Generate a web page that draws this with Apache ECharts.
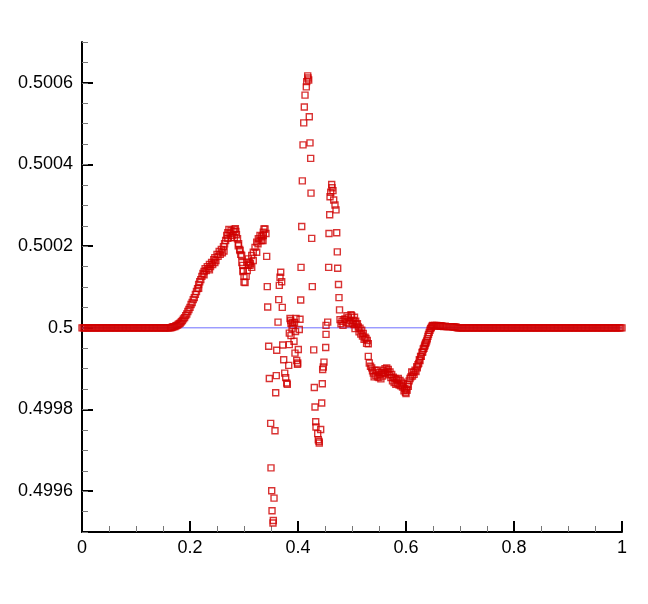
<!DOCTYPE html>
<html>
<head>
<meta charset="utf-8">
<script src="https://cdn.jsdelivr.net/npm/echarts@6/dist/echarts.min.js"></script>
<style>html,body{margin:0;padding:0;background:#fff;}#c{width:648px;height:604px;}</style>
</head>
<body>
<div id="c"></div>
<script>
// Tick values
const xTicks = [0, 0.2, 0.4, 0.6, 0.8, 1];
const yTicks = [0.4996, 0.4998, 0.5, 0.5002, 0.5004, 0.5006];

// Reference line (exact solution)
const exactLine = [[0, 0.5], [1, 0.5]];

// Numerical solution, segment by segment
const flatLeft = [
[0,0.5],[0.0025,0.5],[0.005,0.5],[0.0075,0.5],[0.01,0.5],[0.0125,0.5],[0.015,0.5],[0.0175,0.5],[0.02,0.5],[0.0225,0.5],
[0.025,0.5],[0.0275,0.5],[0.03,0.5],[0.0325,0.5],[0.035,0.5],[0.0375,0.5],[0.04,0.5],[0.0425,0.5],[0.045,0.5],[0.0475,0.5],
[0.05,0.5],[0.0525,0.5],[0.055,0.5],[0.0575,0.5],[0.06,0.5],[0.0625,0.5],[0.065,0.5],[0.0675,0.5],[0.07,0.5],[0.0725,0.5],
[0.075,0.5],[0.0775,0.5],[0.08,0.5],[0.0825,0.5],[0.085,0.5],[0.0875,0.5],[0.09,0.5],[0.0925,0.5],[0.095,0.5],[0.0975,0.5],
[0.1,0.5],[0.1025,0.5],[0.105,0.5],[0.1075,0.5],[0.11,0.5],[0.1125,0.5],[0.115,0.5],[0.1175,0.5],[0.12,0.5],[0.1225,0.5],
[0.125,0.5],[0.1275,0.5],[0.13,0.5],[0.1325,0.5],[0.135,0.5],[0.1375,0.5],[0.14,0.5],[0.1425,0.5],[0.145,0.5],[0.1475,0.5],
[0.15,0.5],[0.1525,0.5],[0.155,0.5],[0.1575,0.5],[0.16,0.5],[0.1625,0.5],[0.164,0.5000005]
];

const rise = [
[0.166,0.500001],[0.168,0.500002],[0.170,0.500003],[0.172,0.500003],[0.174,0.500005],[0.176,0.500006],[0.178,0.500008],
[0.180,0.500010],[0.182,0.500012],[0.184,0.500015],[0.186,0.500018],[0.188,0.500022],[0.190,0.500025],[0.192,0.500030],
[0.194,0.500034],[0.196,0.500040],[0.198,0.500045],[0.200,0.500050],[0.202,0.500057],[0.204,0.500062],[0.206,0.500069],
[0.208,0.500074],[0.210,0.500082],[0.212,0.500089],[0.214,0.500096],[0.216,0.500106],[0.216,0.500097],[0.218,0.500113],
[0.220,0.500118],[0.222,0.500126],[0.224,0.500133],[0.226,0.500138],[0.226,0.500130],[0.228,0.500145],[0.230,0.500140],
[0.232,0.500150],[0.234,0.500145],[0.236,0.500155],[0.236,0.500142],[0.238,0.500150],[0.240,0.500160],[0.242,0.500155],
[0.244,0.500167],[0.246,0.500172],[0.246,0.500160],[0.248,0.500165],[0.250,0.500180],[0.252,0.500175],[0.254,0.500187],
[0.256,0.500180],[0.258,0.500192],[0.260,0.500184],[0.262,0.500199],[0.263,0.500188],[0.264,0.500206],[0.266,0.500214],
[0.268,0.500226],[0.270,0.500233],[0.270,0.500219],[0.272,0.500241],[0.274,0.500231],[0.276,0.500238],[0.276,0.500221],
[0.278,0.500226],[0.280,0.500236],[0.282,0.500241],[0.282,0.500221],[0.284,0.500243],[0.285,0.500236],[0.286,0.500228],
[0.288,0.500218],[0.2894,0.500201],[0.290,0.500206],[0.2926,0.500189],[0.292,0.500192],[0.294,0.500180],[0.2957,0.500177],
[0.296,0.500160],[0.2976,0.500153],[0.298,0.500138],[0.2987,0.500140],[0.300,0.500126],[0.300,0.500112],[0.302,0.500111],
[0.304,0.500126],[0.306,0.500140],[0.308,0.500153],[0.310,0.500160],[0.312,0.500157]
];

const chaos = [
[0.3050,0.500161],[0.3080,0.500169],[0.3111,0.500153],[0.3143,0.500148],[0.3143,0.500177],[0.3172,0.500165],[0.3172,0.500185],
[0.3204,0.500197],[0.3235,0.500185],[0.3235,0.500210],[0.3259,0.500206],[0.3265,0.500218],[0.3296,0.500214],[0.3296,0.500226],
[0.3328,0.500223],[0.3328,0.500214],[0.3352,0.500214],[0.3357,0.500226],[0.3357,0.500234],[0.3370,0.500242],[0.3389,0.500242],
[0.3407,0.500231],[0.3420,0.500175],[0.3431,0.500101],[0.3439,0.500051],[0.3457,0.499955],[0.3469,0.499876],[0.3494,0.499766],
[0.3500,0.499657],[0.3513,0.499601],[0.3556,0.499583],[0.3519,0.499552],[0.3543,0.499528],[0.3537,0.499522],[0.3574,0.499748],
[0.3587,0.499841],[0.3598,0.499883],[0.3606,0.499945],[0.3630,0.500014],[0.3643,0.500069],[0.3654,0.500104],[0.3667,0.500124],
[0.3680,0.500136],[0.3698,0.500113],[0.3709,0.500050],[0.3717,0.499958],[0.3735,0.499922],[0.3754,0.499889],[0.3772,0.499878],
[0.3791,0.499865],[0.3802,0.499862],[0.3828,0.499908],[0.3839,0.499959],[0.3839,0.499987],[0.3852,0.500023],[0.3865,0.500018],
[0.3870,0.500011],[0.3870,0.499981],[0.3889,0.499999],[0.3898,0.500013],[0.3907,0.500006],[0.3926,0.499967],[0.3944,0.499938],
[0.3954,0.499991],[0.3935,0.500013],[0.3963,0.500023],[0.3976,0.499920],[0.3994,0.499914],[0.3991,0.499911],[0.4006,0.499947],
[0.4024,0.499996],[0.4037,0.500021],[0.4050,0.500068],[0.4056,0.500148],[0.4069,0.500248],[0.4080,0.500360],[0.4093,0.500448],
[0.4106,0.500502],[0.4117,0.500541],[0.4130,0.500570],[0.4154,0.500590],[0.4161,0.500603],[0.4180,0.500617],[0.4185,0.500612],
[0.4198,0.500607],[0.4209,0.500517],[0.4222,0.500453],[0.4235,0.500415],[0.4241,0.500330],[0.4254,0.500219],[0.4265,0.500101],
[0.4291,0.499946],[0.4302,0.499854],[0.4315,0.499806],[0.4328,0.499770],[0.4333,0.499757],[0.4365,0.499741],[0.4376,0.499726],
[0.4390,0.499722],[0.4394,0.499718],[0.4420,0.499751],[0.4439,0.499816],[0.4450,0.499863],[0.4457,0.499898],[0.4469,0.499904],
[0.4481,0.499916],[0.4513,0.499952],[0.4519,0.499984],[0.4519,0.500006],[0.4550,0.500014],[0.4568,0.500148],[0.4574,0.500231],
[0.4587,0.500277],[0.4593,0.500321],[0.4606,0.500332],[0.4624,0.500351],[0.4630,0.500343],[0.4648,0.500336],[0.4661,0.500313],
[0.4685,0.500301],[0.4704,0.500289],[0.4717,0.500233],[0.4728,0.500186],[0.4735,0.500146],[0.4750,0.500106],[0.4759,0.500074],
[0.4769,0.500044],[0.4778,0.500020]
];

const trough = [
[0.4796,0.500010],[0.4815,0.500016],[0.4833,0.500006],[0.4852,0.500020],[0.4870,0.500022],[0.4889,0.500013],[0.4907,0.500030],
[0.4931,0.500026],[0.4944,0.500010],[0.4963,0.500018],[0.4981,0.500032],[0.4994,0.500030],[0.5009,0.500012],[0.5024,0.500018],
[0.5037,0.500008],[0.5046,0.500026],[0.5056,0.499998],[0.5069,0.500016],[0.5083,0.500008],[0.5100,0.500010],[0.5117,0.500002],
[0.5130,0.499990],[0.5148,0.499999],[0.5163,0.499985],[0.5180,0.499994],[0.5194,0.499980],[0.5209,0.499986],[0.5224,0.499972],
[0.5241,0.499977],[0.5259,0.499974],[0.5270,0.499962],[0.5283,0.499969],[0.5302,0.499961],[0.5302,0.499930],[0.5320,0.499914],
[0.5343,0.499906],[0.5365,0.499902],[0.5380,0.499895],[0.5394,0.499889],[0.5410,0.499880],[0.5426,0.499896],[0.5440,0.499884],
[0.5457,0.499896],[0.5472,0.499880],[0.5487,0.499891],[0.5500,0.499878],[0.5519,0.499886],[0.5535,0.499875],[0.5550,0.499891],
[0.5565,0.499882],[0.5580,0.499896],[0.5595,0.499888],[0.5611,0.499900],[0.5625,0.499890],[0.5643,0.499902],[0.5657,0.499893],
[0.5672,0.499898],[0.5688,0.499885],[0.5704,0.499892],[0.5720,0.499878],[0.5735,0.499886],[0.5750,0.499870],[0.5765,0.499879],
[0.5780,0.499866],[0.5796,0.499876],[0.5812,0.499862],[0.5828,0.499873],[0.5843,0.499864],[0.5857,0.499876],[0.5873,0.499860],
[0.5889,0.499871],[0.5904,0.499858],[0.5920,0.499867],[0.5935,0.499855],[0.5950,0.499863],[0.5963,0.499846],[0.5976,0.499851],
[0.5990,0.499842],[0.6000,0.499839],[0.6010,0.499850],[0.6019,0.499847],[0.6030,0.499862],[0.6043,0.499857],[0.6058,0.499870],
[0.6074,0.499876],[0.6090,0.499880],[0.6106,0.499892],[0.6120,0.499882],[0.6135,0.499891],[0.6150,0.499886],[0.6167,0.499896],
[0.6185,0.499893],[0.6200,0.499905],[0.6209,0.499902],[0.6222,0.499910],[0.6235,0.499913],[0.6247,0.499922],[0.6259,0.499920],
[0.6270,0.499930],[0.6283,0.499930],[0.6296,0.499940],[0.6309,0.499941],[0.6320,0.499948],[0.6333,0.499950],[0.6343,0.499955],
[0.6352,0.499958],[0.6361,0.499962],[0.6370,0.499964],[0.6383,0.499968],[0.6394,0.499973],[0.6406,0.499979],[0.6417,0.499984],
[0.6430,0.499989],[0.6444,0.499994],[0.6456,0.499998],[0.6469,0.500001],[0.6481,0.500004],[0.6494,0.500006],[0.6512,0.500005],
[0.6531,0.500006],[0.6550,0.500005],[0.6568,0.500006],[0.6590,0.500005],[0.6611,0.500005],[0.6630,0.500004],[0.6648,0.500005],
[0.6675,0.500004],[0.6700,0.500003],[0.6725,0.500004],[0.6750,0.500003],[0.6775,0.500003],[0.6800,0.500003],[0.6825,0.500003],
[0.6850,0.500003],[0.6875,0.500002],[0.6900,0.500002],[0.6925,0.500002]
];

const flatRight = [
[0.695,0.5],[0.6975,0.5],[0.7,0.5],[0.7025,0.5],[0.705,0.5],[0.7075,0.5],[0.71,0.5],[0.7125,0.5],[0.715,0.5],[0.7175,0.5],
[0.72,0.5],[0.7225,0.5],[0.725,0.5],[0.7275,0.5],[0.73,0.5],[0.7325,0.5],[0.735,0.5],[0.7375,0.5],[0.74,0.5],[0.7425,0.5],
[0.745,0.5],[0.7475,0.5],[0.75,0.5],[0.7525,0.5],[0.755,0.5],[0.7575,0.5],[0.76,0.5],[0.7625,0.5],[0.765,0.5],[0.7675,0.5],
[0.77,0.5],[0.7725,0.5],[0.775,0.5],[0.7775,0.5],[0.78,0.5],[0.7825,0.5],[0.785,0.5],[0.7875,0.5],[0.79,0.5],[0.7925,0.5],
[0.795,0.5],[0.7975,0.5],[0.8,0.5],[0.8025,0.5],[0.805,0.5],[0.8075,0.5],[0.81,0.5],[0.8125,0.5],[0.815,0.5],[0.8175,0.5],
[0.82,0.5],[0.8225,0.5],[0.825,0.5],[0.8275,0.5],[0.83,0.5],[0.8325,0.5],[0.835,0.5],[0.8375,0.5],[0.84,0.5],[0.8425,0.5],
[0.845,0.5],[0.8475,0.5],[0.85,0.5],[0.8525,0.5],[0.855,0.5],[0.8575,0.5],[0.86,0.5],[0.8625,0.5],[0.865,0.5],[0.8675,0.5],
[0.87,0.5],[0.8725,0.5],[0.875,0.5],[0.8775,0.5],[0.88,0.5],[0.8825,0.5],[0.885,0.5],[0.8875,0.5],[0.89,0.5],[0.8925,0.5],
[0.895,0.5],[0.8975,0.5],[0.9,0.5],[0.9025,0.5],[0.905,0.5],[0.9075,0.5],[0.91,0.5],[0.9125,0.5],[0.915,0.5],[0.9175,0.5],
[0.92,0.5],[0.9225,0.5],[0.925,0.5],[0.9275,0.5],[0.93,0.5],[0.9325,0.5],[0.935,0.5],[0.9375,0.5],[0.94,0.5],[0.9425,0.5],
[0.945,0.5],[0.9475,0.5],[0.95,0.5],[0.9525,0.5],[0.955,0.5],[0.9575,0.5],[0.96,0.5],[0.9625,0.5],[0.965,0.5],[0.9675,0.5],
[0.97,0.5],[0.9725,0.5],[0.975,0.5],[0.9775,0.5],[0.98,0.5],[0.9825,0.5],[0.985,0.5],[0.9875,0.5],[0.99,0.5],[0.9925,0.5],
[0.995,0.5],[0.9975,0.5],[1.0,0.5]
];

const numerical = [].concat(flatLeft, rise, chaos, trough, flatRight);

const FONT = 'Liberation Sans';
const chart = echarts.init(document.getElementById('c'), null, {renderer: 'canvas'});
chart.setOption({
  animation: false,
  backgroundColor: '#fff',
  grid: {left: 82, right: 26, top: 42, bottom: 72, containLabel: false},
  xAxis: {
    type: 'value', min: 0, max: 1, interval: 0.2,
    axisLine: {show: true, onZero: false, lineStyle: {color: '#000', width: 2}},
    axisTick: {show: true, inside: true, length: 11, lineStyle: {color: '#000', width: 2}},
    minorTick: {show: true, splitNumber: 4, length: 6, lineStyle: {color: '#777', width: 1}},
    axisLabel: {color: '#000', fontSize: 18, fontFamily: FONT, margin: 7,
      formatter: v => String(+(+v).toFixed(4))},
    splitLine: {show: false}, minorSplitLine: {show: false}
  },
  yAxis: [{
    type: 'value', min: 0.4995, max: 0.5007, position: 'left',
    axisLine: {show: true, onZero: false, lineStyle: {color: '#000', width: 2}},
    axisTick: {show: true, inside: true, length: 11, customValues: yTicks, lineStyle: {color: '#000', width: 2}},
    axisLabel: {color: '#000', fontSize: 18, fontFamily: FONT, margin: 9, customValues: yTicks,
      formatter: v => String(+(+v).toFixed(4))},
    splitLine: {show: false}
  }, {
    type: 'value', min: 0.4995, max: 0.5007, interval: 0.00005, position: 'left', offset: 0,
    axisLine: {show: false},
    axisTick: {show: true, inside: true, length: 6, lineStyle: {color: '#777', width: 1}},
    axisLabel: {show: false},
    splitLine: {show: false}
  }],
  series: [{
    type: 'line', data: exactLine, yAxisIndex: 0, symbol: 'none', z: 1,
    lineStyle: {color: '#6e6eff', width: 1}
  }, {
    type: 'scatter', data: numerical, yAxisIndex: 0, z: 2,
    symbol: 'rect', symbolSize: 6,
    itemStyle: {color: 'rgba(255,255,255,0)', borderColor: '#d00000', borderWidth: 1.4}
  }]
});
</script>
</body>
</html>
